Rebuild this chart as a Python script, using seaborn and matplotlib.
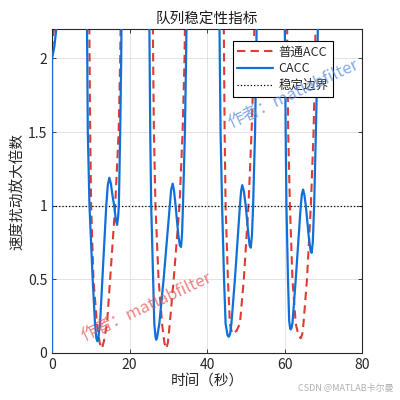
import numpy as np
import pandas as pd
import matplotlib
matplotlib.use("Agg")
import matplotlib.pyplot as plt
import seaborn as sns

# CACC curve (values above 2.2 are off the chart)
t_cacc = [0, 0.02, 0.6, 1.2, 1.6, 5.0,
          9.0, 9.1, 9.24, 9.67, 10.5, 11.1, 11.45, 11.7, 11.95, 12.4, 13.0, 14.0, 14.4, 14.8, 15.2,
          15.6, 16.05, 16.5, 16.8, 17.05, 17.25, 17.6, 17.86, 17.95, 21.5,
          25.1, 25.2, 25.35, 25.6, 26.1, 26.4, 26.7, 26.9, 27.15, 27.7, 28.8, 30.4, 30.75, 31.15,
          31.5, 31.9, 32.6, 33.0, 33.3, 33.55, 33.8, 34.3, 34.6, 34.75, 39.0,
          43.2, 43.3, 43.5, 43.9, 44.4, 44.8, 45.3, 45.65, 45.95, 46.3, 47.2, 48.5, 48.8, 49.1,
          49.5, 50.0, 50.7, 51.0, 51.3, 51.6, 51.9, 52.4, 52.7, 52.85, 56.5,
          60.05, 60.15, 60.3, 60.5, 60.9, 61.2, 61.45, 61.6, 61.8, 62.05, 62.9, 64.2, 64.5, 64.8,
          65.15, 65.5, 66.3, 66.7, 67.0, 67.3, 67.65, 68.1, 68.5, 68.65, 74.0, 80.0]
v_cacc = [0, 2.0, 2.08, 2.22, 2.6, 5.0,
          2.3, 2.0, 1.5, 1.0, 0.5, 0.2, 0.1, 0.08, 0.1, 0.2, 0.5, 1.0, 1.14, 1.19, 1.15,
          1.07, 1.0, 0.9, 0.87, 0.92, 1.0, 1.5, 2.0, 2.3, 5.0,
          2.3, 2.0, 1.5, 1.0, 0.5, 0.2, 0.11, 0.09, 0.11, 0.2, 0.5, 1.0, 1.11, 1.15,
          1.1, 1.0, 0.8, 0.73, 0.72, 0.8, 1.0, 1.5, 2.0, 2.3, 5.0,
          2.3, 2.0, 1.5, 1.0, 0.5, 0.2, 0.12, 0.11, 0.13, 0.2, 0.5, 1.0, 1.1, 1.14,
          1.1, 1.0, 0.8, 0.73, 0.715, 0.8, 1.0, 1.5, 2.0, 2.3, 5.0,
          2.3, 2.0, 1.5, 1.0, 0.5, 0.22, 0.17, 0.16, 0.17, 0.2, 0.5, 1.0, 1.08, 1.11,
          1.07, 1.0, 0.78, 0.7, 0.68, 0.75, 1.0, 1.5, 2.0, 2.3, 5.0, 5.0]

# plain ACC curve
t_acc = [0, 0.5, 0.8, 4.0,
         9.6, 9.7, 9.85, 10.1, 10.7, 11.6, 12.3, 12.87, 13.4, 14.2, 15.0, 16.3, 17.2, 17.6, 17.75, 21.0,
         26.0, 26.1, 26.3, 26.7, 27.5, 28.4, 29.0, 29.5, 29.9, 30.4, 31.4, 32.9, 33.7, 34.2, 34.35, 39.0,
         44.3, 44.4, 44.55, 44.8, 45.4, 45.9, 46.5, 47.0, 47.6, 48.5, 49.5, 50.7, 51.5, 52.1, 52.25, 56.5,
         60.65, 60.75, 60.95, 61.4, 62.05, 62.9, 63.6, 64.2, 64.6, 64.9, 65.8, 66.8, 67.5, 67.9, 68.05, 74.0, 80.0]
v_acc = [2.06, 2.2, 2.4, 5.0,
         2.3, 2.0, 1.5, 1.0, 0.5, 0.2, 0.07, 0.03, 0.08, 0.2, 0.5, 1.0, 1.5, 2.0, 2.3, 5.0,
         2.3, 2.0, 1.5, 1.0, 0.5, 0.2, 0.07, 0.03, 0.07, 0.2, 0.5, 1.0, 1.5, 2.0, 2.3, 5.0,
         2.3, 2.0, 1.5, 1.0, 0.5, 0.2, 0.13, 0.14, 0.15, 0.2, 0.5, 1.0, 1.5, 2.0, 2.3, 5.0,
         2.3, 2.0, 1.5, 1.0, 0.5, 0.2, 0.12, 0.1, 0.13, 0.2, 0.5, 1.0, 1.5, 2.0, 2.3, 5.0, 5.0]

bound = 1.0
x_ticks = [0, 20, 40, 60, 80]
y_ticks = [0, 0.5, 1, 1.5, 2]

sns.set_theme(style="ticks")
plt.rcParams['font.family'] = ['Noto Sans CJK SC', 'DejaVu Sans']
plt.rcParams['axes.unicode_minus'] = False

fig = plt.figure(figsize=(4, 4), dpi=100)
ax = fig.add_axes([0.13, 0.1175, 0.775, 0.81])

df_acc = pd.DataFrame({'t': t_acc, 'v': v_acc})
df_cacc = pd.DataFrame({'t': t_cacc, 'v': v_cacc})

sns.lineplot(data=df_acc, x='t', y='v', ax=ax, sort=False, estimator=None,
             color='#DC3C32', linewidth=1.5, dashes=False, label='普通ACC')
ax.lines[-1].set_dashes((4, 2.5))
sns.lineplot(data=df_cacc, x='t', y='v', ax=ax, sort=False, estimator=None,
             color='#1170D8', linewidth=1.6, label='CACC')
ax.lines[-1].set_zorder(3)
ax.axhline(bound, color='black', linestyle=':', linewidth=0.9, label='稳定边界')

ax.set_xlim(0, 80)
ax.set_ylim(0, 2.2)
ax.set_xticks(x_ticks)
ax.set_yticks(y_ticks)
ax.set_yticklabels(['0', '0.5', '1', '1.5', '2'])
ax.grid(True, color='#dedede', linewidth=0.6)
ax.tick_params(direction='in', length=3, width=0.6, top=True, right=True,
               labelsize=10, colors='#262626')
for s in ax.spines.values():
    s.set_color('#262626')
    s.set_linewidth(0.8)

ax.set_title('队列稳定性指标', fontsize=10.5, color='#1a1a1a', pad=4)
ax.set_xlabel('时间（秒）', fontsize=10.5, color='#262626', labelpad=2)
ax.set_ylabel('速度扰动放大倍数', fontsize=10.5, color='#262626', labelpad=2)

leg = ax.legend(loc='upper right', bbox_to_anchor=(0.906, 0.962), fontsize=9,
                fancybox=False, framealpha=1, edgecolor='black', handlelength=2.9,
                borderpad=0.35, labelspacing=0.3, handletextpad=0.4, borderaxespad=0)
leg.get_frame().set_linewidth(0.8)

# watermarks (drawn over the legend, as in the picture)
ax.text(0.306, 0.142, '作者：matlabfilter', transform=ax.transAxes, rotation=25,
        fontsize=12, color='#E85A5A', alpha=0.75, ha='center', va='center', zorder=10)
ax.text(0.78, 0.80, '作者：matlabfilter', transform=ax.transAxes, rotation=25,
        fontsize=12, color='#5C8FE0', alpha=0.75, ha='center', va='center', zorder=10)
fig.text(0.985, 0.03, 'CSDN @MATLAB卡尔曼', fontsize=6.5, color='#b0b0b0', ha='right', va='center')

fig.savefig('out.png', dpi=100)
